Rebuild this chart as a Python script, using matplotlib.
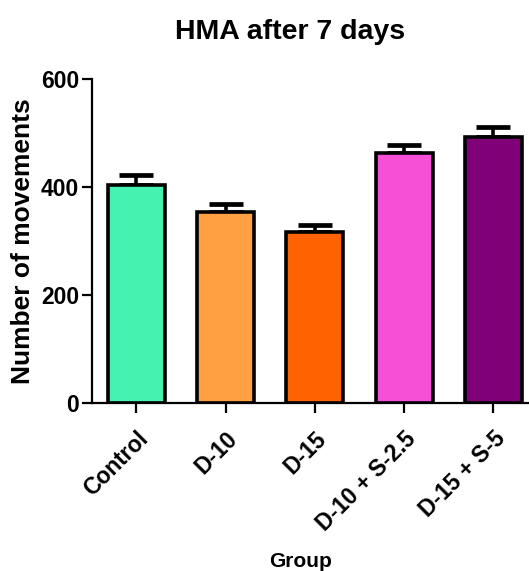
import matplotlib
matplotlib.use("Agg")
import matplotlib.pyplot as plt

groups = ["Control", "D-10", "D-15", "D-10 + S-2.5", "D-15 + S-5"]
means = [404, 354, 318, 464, 494]
sem = [19, 15, 13, 15, 18]
colors = ["#46F2B0", "#FFA042", "#FF6200", "#F550D6", "#800078"]

plt.rcParams["font.family"] = ["Liberation Sans", "DejaVu Sans"]
plt.rcParams["font.weight"] = "bold"

fig = plt.figure(figsize=(5.29, 5.71), dpi=100)
ax = fig.add_axes([0.1733, 0.2937, 0.8437, 0.5674])

x = list(range(len(groups)))
ax.bar(x, means, width=0.64, color=colors, edgecolor="black", linewidth=2.6, zorder=2)
ax.errorbar(x, means, yerr=[[0] * len(sem), sem], fmt="none", ecolor="black",
            elinewidth=2.6, capsize=12, capthick=3.4, zorder=1)

ax.set_xlim(-0.5, 4.5)
ax.set_ylim(0, 600)
ax.set_yticks([0, 200, 400, 600])
ax.set_xticks(x)
ax.set_xticklabels(groups, rotation=45, ha="right", rotation_mode="anchor",
                   fontsize=16.5, fontweight="bold")
ax.tick_params(axis="y", labelsize=16.5, length=7, width=1.6, pad=2)
ax.tick_params(axis="x", length=7, width=1.6, pad=10)

for s in ["top", "right"]:
    ax.spines[s].set_visible(False)
for s in ["left", "bottom"]:
    ax.spines[s].set_linewidth(1.6)

fig.text(0.548, 0.944, "HMA after 7 days", ha="center", va="center",
         fontsize=20.5, fontweight="bold")
fig.text(0.0435, 0.578, "Number of movements", rotation=90, ha="center",
         va="center", fontsize=19, fontweight="bold")
fig.text(0.569, 0.017, "Group", ha="center", va="center",
         fontsize=15, fontweight="bold")

fig.savefig("out.png", dpi=100)
